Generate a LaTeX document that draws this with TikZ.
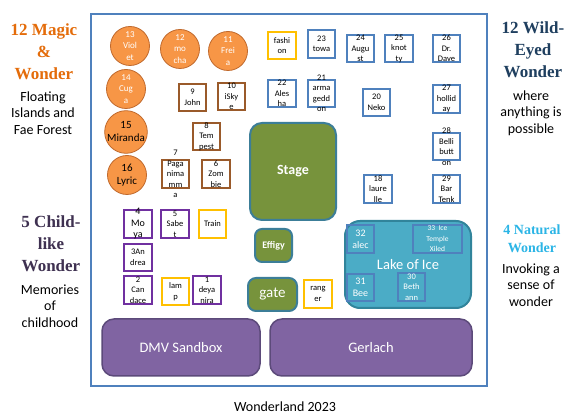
\documentclass[tikz,border=0pt]{standalone}
\usepackage{fontspec}
\setmainfont{Carlito}
\newfontfamily\deco{Liberation Serif}
\definecolor{frameblue}{HTML}{4F81BD}
\definecolor{boxblue}{HTML}{4F81BD}
\definecolor{boxbrown}{HTML}{9A5A2A}
\definecolor{boxpurple}{HTML}{7030A0}
\definecolor{boxyellow}{HTML}{FFC000}
\definecolor{orangefill}{HTML}{F79646}
\definecolor{orangeline}{HTML}{C0692C}
\definecolor{olive}{HTML}{77933C}
\definecolor{tealline}{HTML}{3C7E98}
\definecolor{lakefill}{HTML}{4BACC6}
\definecolor{lakeline}{HTML}{31849B}
\definecolor{purplefill}{HTML}{8064A2}
\definecolor{purpleline}{HTML}{5C4A7A}
\definecolor{headorange}{HTML}{E46C0A}
\definecolor{headnavy}{HTML}{1F3F5F}
\definecolor{headplum}{HTML}{3F3151}
\definecolor{headcyan}{HTML}{2BB5E6}
\tikzset{
  sq/.style={draw, line width=2.4pt, fill=white, minimum width=27.5, minimum height=27.5, inner sep=0},
  bsq/.style={sq, draw=boxblue},
  rsq/.style={sq, draw=boxbrown},
  psq/.style={sq, draw=boxpurple},
  ysq/.style={sq, draw=boxyellow},
  lsq/.style={draw=boxblue, line width=2.4pt, inner sep=0},
  lbl/.style={font=\fontsize{8.5}{10.5}\selectfont, align=center, text=black, inner sep=0},
  wlbl/.style={lbl, text=white},
  circ/.style={circle, draw=orangeline, line width=0.8pt, fill=orangefill, minimum size=39, inner sep=0, align=center, text=white, font=\fontsize{9}{11.5}\selectfont},
  bigcirc/.style={circ, text=black, font=\fontsize{11}{13}\selectfont},
  green/.style={draw=tealline, line width=2pt, fill=olive, text=white, inner sep=0},
  zone/.style={draw=purpleline, line width=1.5pt, fill=purplefill, rounded corners=12, text=white, font=\fontsize{14.5}{17}\selectfont, inner sep=0},
  head/.style={align=center, font=\deco\bfseries\fontsize{17}{22}\selectfont, inner sep=0},
  desc/.style={align=center, font=\fontsize{14}{16.5}\selectfont, text=black, inner sep=0}
}
\begin{document}
\begin{tikzpicture}[x=1pt,y=-1pt]
\useasboundingbox (0,0) rectangle (574,417);
\fill[white] (0,0) rectangle (574,417);
% main frame
\node[draw=frameblue, line width=2pt, minimum width=396, minimum height=372, inner sep=0] (frame) at (289,200) {};

% side headings
\node[head, text=headorange] (h1) at (44,52) {12 Magic\\\&\\Wonder};
\node[desc] (d1) at (43,113) {Floating\\Islands and\\Fae Forest};
\node[head, text=headnavy] (h2) at (533,50) {12 Wild-\\Eyed\\Wonder};
\node[desc] (d2) at (531,113) {where\\anything is\\possible};
\node[head, text=headplum] (h3) at (51,244) {5 Child-\\like\\Wonder};
\node[desc] (d3) at (50,306) {Memories\\of\\childhood};
\node[head, text=headcyan, font=\deco\bfseries\fontsize{14}{18}\selectfont] (h4) at (532,239) {4 Natural\\Wonder};
\node[desc] (d4) at (531,285) {Invoking a\\sense of\\wonder};

% circles
\node[circ] (c13) at (130,46) {13\\Viol\\et};
\node[circ] (c12) at (180,49) {12\\mo\\cha};
\node[circ] (c11) at (228,51) {11\\Frei\\a};
\node[circ] (c14) at (126,89) {14\\Cug\\a};
\node[bigcirc] (c15) at (126,132) {15\\Miranda};
\node[bigcirc] (c16) at (127,175) {16\\Lyric};

% brown boxes
\node[rsq, label={[lbl]center:{9\\John}}] (b9) at (192.5,97.5) {};
\node[rsq, label={[lbl]center:{10\\iSky\\e}}] (b10) at (231.5,96.5) {};
\node[rsq, label={[lbl]center:{8\\Tem\\pest}}] (b8) at (206.5,136.5) {};
\node[rsq, label={[lbl]center:{7\\Paga\\nima\\mm\\a}}] (b7) at (175.5,174) {};
\node[rsq, label={[lbl]center:{6\\Zom\\bie}}] (b6) at (216,174) {};

% blue boxes
\node[ysq, label={[lbl]center:{fashi\\on}}] (fash) at (282,45.5) {};
\node[bsq, label={[lbl]center:{23\\towa}}] (b23) at (321.5,44) {};
\node[bsq, label={[lbl]center:{24\\Augu\\st}}] (b24) at (360.5,48.5) {};
\node[bsq, label={[lbl]center:{25\\knot\\ty}}] (b25) at (399,48.5) {};
\node[bsq, label={[lbl]center:{26\\Dr.\\Dave}}] (b26) at (446.5,48.5) {};
\node[bsq, label={[lbl]center:{22\\Ales\\ha}}] (b22) at (282,93.5) {};
\node[bsq, label={[lbl]center:{21\\arma\\gedd\\on}}] (b21) at (321.5,93.5) {};
\node[bsq, label={[lbl]center:{20\\Neko}}] (b20) at (376.5,102.5) {};
\node[bsq, label={[lbl]center:{27\\hollid\\ay}}] (b27) at (446.5,99) {};
\node[bsq, label={[lbl]center:{28\\Belli\\butt\\on}}] (b28) at (446.5,146.5) {};
\node[bsq, label={[lbl]center:{18\\laure\\lle}}] (b18) at (378,189) {};
\node[bsq, label={[lbl]center:{29\\Bar\\Tenk}}] (b29) at (446.5,189) {};

% purple boxes
\node[psq, label={[lbl, font=\fontsize{10}{11.5}\selectfont]center:{4\\Mo\\ya}}] (p4) at (138,224) {};
\node[psq, label={[lbl]center:{5\\Sabe\\t}}] (p5) at (175,224) {};
\node[ysq, label={[lbl]center:{Train}}] (train) at (212.5,224) {};
\node[psq, label={[lbl]center:{3An\\drea}}] (p3) at (138,257.5) {};
\node[psq, label={[lbl]center:{2\\Can\\dace}}] (p2) at (138,290) {};
\node[ysq, label={[lbl]center:{lam\\p}}] (lamp) at (175.5,291.5) {};
\node[psq, label={[lbl]center:{1\\deya\\nira}}] (p1) at (207,290) {};

% green areas
\node[green, rounded corners=12, minimum width=86, minimum height=97, font=\bfseries\fontsize{14}{16}\selectfont] (stage) at (293,171.5) {Stage};
\node[green, rounded corners=7, minimum width=37, minimum height=33, font=\bfseries\fontsize{10}{12}\selectfont] (effigy) at (273.5,245.5) {Effigy};
\node[green, rounded corners=8, minimum width=49, minimum height=33, font=\fontsize{15}{17}\selectfont] (gate) at (272.5,294.5) {gate};
\node[ysq, label={[lbl]center:{rang\\er}}] (ranger) at (318,294) {};

% lake
\node[draw=lakeline, line width=2pt, fill=lakefill, rounded corners=15, minimum width=126, minimum height=87, inner sep=0, text=white, font=\fontsize{14.5}{17}\selectfont] (lake) at (408,264.5) {Lake of Ice};
\node[lsq, minimum width=27.5, minimum height=28.5, label={[wlbl, font=\fontsize{10}{12}\selectfont]center:{32\\alec}}] (l32) at (360.5,239) {};
\node[lsq, minimum width=49, minimum height=28.5, label={[wlbl, font=\fontsize{7.5}{10.5}\selectfont]center:{33\ \ Ice\\Temple\\Xiled}}] (l33) at (437.5,239) {};
\node[lsq, minimum width=27.5, minimum height=27.5, label={[wlbl, font=\fontsize{10}{12.5}\selectfont]center:{31\\Bee}}] (l31) at (360.5,287.5) {};
\node[lsq, minimum width=27.5, minimum height=28, label={[wlbl]center:{30\\Beth\\ann}}] (l30) at (411.5,287) {};

% bottom zones
\node[zone, minimum width=158, minimum height=57] (dmv) at (181,347.5) {DMV Sandbox};
\node[zone, minimum width=202, minimum height=57] (gerlach) at (371,347.5) {Gerlach};

\node[font=\fontsize{14}{16}\selectfont, inner sep=0] (title) at (285,407) {Wonderland 2023};
\end{tikzpicture}
\end{document}
